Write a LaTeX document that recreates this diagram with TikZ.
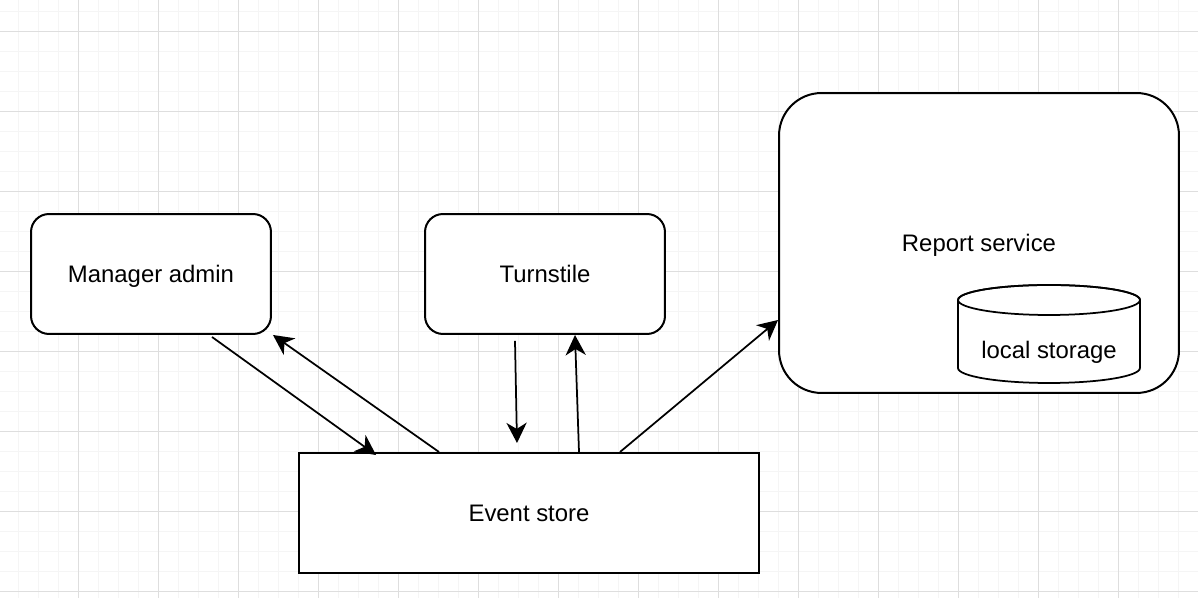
\documentclass[tikz,border=0pt]{standalone}
\usepackage{fontspec}
\setmainfont{Liberation Sans}
\usetikzlibrary{calc,arrows.meta}

\tikzset{
	box/.style={draw, line width=0.04cm, minimum width=#1, minimum height=2.4cm, align=center, text depth=0pt},
	roundbox/.style={box=#1, rounded corners=0.36cm},
	link/.style={line width=0.035cm, -{Stealth[length=11.5pt, width=11.5pt, inset=3.5pt]}},
	minorgrid/.style={line width=0.02cm, color=black!4},
	majorgrid/.style={line width=0.02cm, color=black!13}
}

\begin{document}
\begin{tikzpicture}[x=0.02cm, y=0.02cm, font=\fontsize{13.6}{16}\selectfont]
			%%%%% GRID %%%%%
			\fill[white] (0, 0) rectangle (1198, 598);
			\useasboundingbox (0, 0) rectangle (1198, 598);
			\foreach \x in {18,38,...,1198} \draw[minorgrid] (\x, 0) -- (\x, 598);
			\foreach \y in {6,26,...,598} \draw[minorgrid] (0, \y) -- (1198, \y);
			\foreach \x in {78,158,...,1198} \draw[majorgrid] (\x, 0) -- (\x, 598);
			\foreach \y in {6,86,...,598} \draw[majorgrid] (0, \y) -- (1198, \y);
			
			%%%%% BOXES %%%%%
			\node[roundbox=4.8cm, fill=white] (admin) at (151, 324) {Manager admin};
			\node[roundbox=4.8cm, fill=white] (turnstile) at (545, 324) {Turnstile};
			\node[box=9.2cm, fill=white] (events) at (529, 85) {Event store};
			
			\node[box=8cm, minimum height=6cm, rounded corners=0.85cm, fill=white] (report) at (979, 355) {Report service};
			
			%%%%% STORAGE %%%%%
			\coordinate (storage) at (1049, 248);
			\draw[line width=0.035cm, fill=white] ($(storage)+(-91, 50)$) -- ($(storage)+(-91, -18)$)
				arc[start angle=180, end angle=360, x radius=1.82cm, y radius=0.3cm] -- ($(storage)+(91, 50)$)
				arc[start angle=0, end angle=180, x radius=1.82cm, y radius=0.3cm];
			\draw[line width=0.035cm] ($(storage)+(0, 50)$) ellipse [x radius=1.82cm, y radius=0.3cm];
			\node[text depth=0pt] (storagetext) at (storage) {local storage};
			
			%%%%% ARROWS %%%%%
			\draw[link] ($(admin.south)+(61, -2)$) -- ($(events.north west)+(78, -3)$);
			\draw[link] ($(events.north west)+(141, 0)$) -- ($(admin.south east)+(1, 0)$);
			\draw[link] ($(turnstile.south)+(-30, -6)$) -- ($(events.north)+(-12, 9)$);
			\draw[link] ($(events.north)+(50, 0)$) -- ($(turnstile.south)+(30, 0)$);
			\draw[link] ($(events.north)+(91, 0)$) -- ($(report.west)+(0, -77)$);
			
\end{tikzpicture}
\end{document}
